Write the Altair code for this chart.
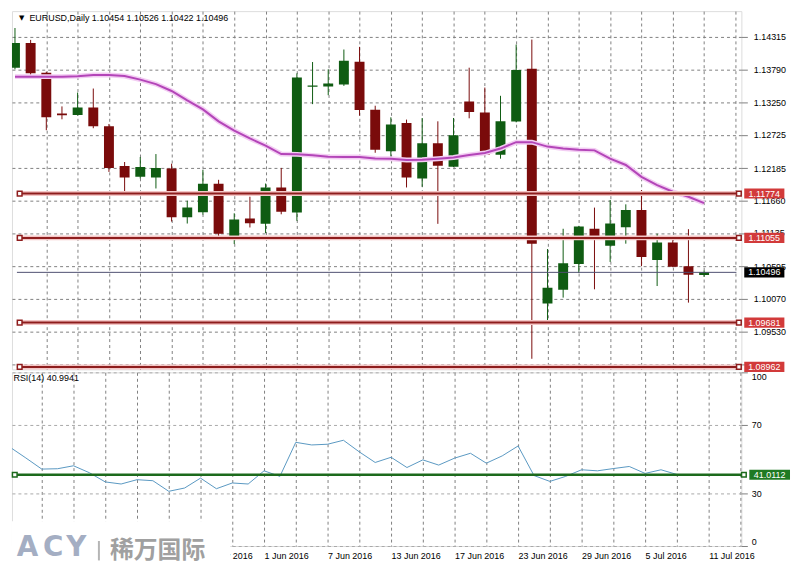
import altair as alt
import pandas as pd

# ---------------- data ----------------
dates = ["10 May", "11 May", "12 May", "13 May", "16 May", "17 May", "18 May", "19 May",
         "20 May", "23 May", "24 May", "25 May", "26 May", "27 May", "30 May", "31 May",
         "1 Jun", "2 Jun", "3 Jun", "6 Jun", "7 Jun", "8 Jun", "9 Jun", "10 Jun",
         "13 Jun", "14 Jun", "15 Jun", "16 Jun", "17 Jun", "20 Jun", "21 Jun", "22 Jun",
         "23 Jun", "24 Jun", "27 Jun", "28 Jun", "29 Jun", "30 Jun", "1 Jul", "4 Jul",
         "5 Jul", "6 Jul", "7 Jul", "8 Jul", "11 Jul"]

opens = [1.13816, 1.14218, 1.13735, 1.13075, 1.13048, 1.13172, 1.12866, 1.12222, 1.12045,
         1.12034, 1.12179, 1.11390, 1.11470, 1.11932, 1.11079, 1.11369, 1.11283, 1.11873,
         1.11465, 1.13505, 1.13510, 1.13542, 1.13912, 1.13135, 1.12459, 1.12919, 1.12018,
         1.12592, 1.12211, 1.13268, 1.13091, 1.12404, 1.12942, 1.13800, 1.09989, 1.10214,
         1.10633, 1.11203, 1.10929, 1.11229, 1.11509, 1.10697, 1.10982, 1.10596, 1.10454]
highs = [1.14460, 1.14267, 1.13750, 1.13188, 1.13413, 1.13478, 1.12903, 1.12286, 1.12367,
         1.12415, 1.12259, 1.11658, 1.12158, 1.11997, 1.11454, 1.11723, 1.11937, 1.12190,
         1.13724, 1.13908, 1.13789, 1.14111, 1.14154, 1.13199, 1.13011, 1.12974, 1.13000,
         1.12946, 1.13000, 1.13816, 1.13494, 1.13360, 1.14191, 1.14272, 1.10874, 1.11203,
         1.11250, 1.11546, 1.11670, 1.11599, 1.11831, 1.11122, 1.11042, 1.11196, 1.10526]
lows = [1.13790, 1.13655, 1.12802, 1.12979, 1.13040, 1.12834, 1.12125, 1.11776, 1.12018,
        1.11857, 1.11320, 1.11288, 1.11433, 1.11079, 1.10955, 1.11224, 1.11132, 1.11438,
        1.11332, 1.13225, 1.13370, 1.13521, 1.13038, 1.12436, 1.12351, 1.11873, 1.11884,
        1.11283, 1.12205, 1.12995, 1.12394, 1.12340, 1.12930, 1.09094, 1.09710, 1.10086,
        1.10488, 1.10221, 1.10665, 1.10961, 1.10596, 1.10274, 1.10580, 1.10005, 1.10422]
closes = [1.14218, 1.13724, 1.13011, 1.13043, 1.13172, 1.12866, 1.12190, 1.12034, 1.12206,
          1.12190, 1.11390, 1.11546, 1.11932, 1.11122, 1.11353, 1.11293, 1.11873, 1.11481,
          1.13655, 1.13526, 1.13558, 1.13929, 1.13128, 1.12484, 1.12893, 1.12034, 1.12592,
          1.12227, 1.12721, 1.13096, 1.12404, 1.12946, 1.13779, 1.10961, 1.10247, 1.10644,
          1.11240, 1.11042, 1.11288, 1.11509, 1.10746, 1.10982, 1.10585, 1.10456, 1.10496]
ma = [1.13671, 1.13671, 1.13671, 1.13671, 1.13679, 1.13698, 1.13698, 1.13682, 1.13623,
      1.13550, 1.13438, 1.13285, 1.13140, 1.12946, 1.12797, 1.12668, 1.12552, 1.12415,
      1.12410, 1.12394, 1.12372, 1.12367, 1.12367, 1.12343, 1.12340, 1.12319, 1.12324,
      1.12340, 1.12359, 1.12399, 1.12431, 1.12504, 1.12608, 1.12608, 1.12536, 1.12504,
      1.12484, 1.12475, 1.12340, 1.12238, 1.12045, 1.11911, 1.11803, 1.11723, 1.11618]
rsi = [56.9, 50.7, 44.3, 44.5, 46.2, 42.2, 36.9, 35.7, 38.2, 37.6, 31.5, 33.4, 39.1, 33.0,
       36.3, 35.7, 43.3, 40.1, 59.7, 58.2, 58.6, 60.9, 54.2, 48.1, 51.1, 45.2, 49.6, 46.6,
       50.6, 53.4, 47.7, 51.9, 57.6, 40.6, 37.2, 40.1, 43.9, 43.3, 44.6, 45.8, 41.8, 43.9,
       41.2, 40.6, 40.99]

tick_labels = ["10 May 2016", "16 May 2016", "20 May 2016", "26 May 2016", "1 Jun 2016",
               "7 Jun 2016", "13 Jun 2016", "17 Jun 2016", "23 Jun 2016", "29 Jun 2016",
               "5 Jul 2016", "11 Jul 2016"]
price_ticks = [1.14315, 1.13790, 1.13250, 1.12725, 1.12185, 1.11660, 1.11135, 1.10595,
               1.10070, 1.09530, 1.09005]
rsi_ticks = [0, 30, 70, 100]
levels = [1.11774, 1.11055, 1.09681, 1.08962]
last_price = 1.10496
rsi_level = 41.0112
header_arrow = "\u25bc"
header = "EURUSD,Daily  1.10454 1.10526 1.10422 1.10496"
rsi_header = "RSI(14) 40.9941"
logo_letters = ["A", "C", "Y"]
logo_cn = "稀万国际"

# ---------------- styles ----------------
FONT = "Liberation Sans"
GREEN = "#0f5c12"
RED = "#7a0b0b"
LEVEL_RED = "#8e1d1d"
TAG_RED = "#d23a3a"
GRID = "#808080"

n = len(opens)
df = pd.DataFrame({"i": list(range(n)), "date": dates, "open": opens, "high": highs,
                   "low": lows, "close": closes, "ma": ma, "rsi": rsi})
df["dir"] = ["up" if c >= o else "down" for o, c in zip(opens, closes)]

X0, X1 = 0.125, 46.0625
x_scale = alt.Scale(domain=[X0, X1], nice=False, zero=False)
p_scale = alt.Scale(domain=[1.08922, 1.14734], nice=False, zero=False)
r_scale = alt.Scale(domain=[0, 100], nice=False, zero=False)
grid_vals = list(range(2, 47, 2))
color_enc = alt.Color("dir:N", scale=alt.Scale(domain=["up", "down"], range=[GREEN, RED]),
                      legend=None)

x_top_axis = alt.Axis(values=grid_vals, tickCount=100, grid=True, gridDash=[3, 3],
                      gridColor=GRID, labels=False, ticks=False, domain=False, title=None)
label_arr = "[" + ",".join("'" + t + "'" for t in tick_labels) + "]"
# labels left of 26 May lie under the logo box in the reference
x_bot_axis = alt.Axis(values=grid_vals, tickCount=100, grid=True, gridDash=[3, 3],
                      gridColor=GRID, ticks=False, domain=False, title=None,
                      labelExpr="(datum.value % 4 == 0 && datum.value >= 12) ? "
                                + label_arr + "[datum.value / 4] : ''",
                      labelAlign="left", labelBaseline="top", labelPadding=6,
                      labelFontSize=9, labelFont=FONT, labelColor="#000000",
                      labelOverlap=False, labelBound=False, labelFlush=False)
p_axis = alt.Axis(orient="right", values=price_ticks, tickCount=100, grid=True,
                  labelExpr="datum.value < 1.0901 ? '' : format(datum.value, '.5f')",
                  gridDash=[3, 3], gridColor=GRID, tickSize=6, tickColor=GRID,
                  domain=False, labelPadding=6, labelFontSize=9, labelFont=FONT,
                  labelColor="#000000", title=None, labelFlush=False, labelOverlap=False)
r_axis = alt.Axis(orient="right", values=rsi_ticks, tickCount=100, grid=True, gridDash=[3, 3],
                  gridColor="#a8a8a8", tickSize=6, tickColor=GRID, domain=False,
                  labelPadding=4, labelFontSize=9, labelFont=FONT, labelColor="#000000",
                  title=None, labelFlush=True, labelOverlap=False)

base = alt.Chart(df)

# ---------------- price pane ----------------
wicks = base.mark_rule(strokeWidth=1, clip=True).encode(
    x=alt.X("i:Q", scale=x_scale, axis=x_top_axis),
    y=alt.Y("low:Q", scale=p_scale, axis=p_axis),
    y2="high:Q", color=color_enc)
bodies = base.mark_bar(size=10, clip=True).encode(
    x="i:Q", y="open:Q", y2="close:Q", color=color_enc)
ma_halo = base.mark_line(color="#f3cdf3", strokeWidth=5, clip=True).encode(x="i:Q", y="ma:Q")
ma_line = base.mark_line(color="#b345b8", strokeWidth=2, clip=True).encode(x="i:Q", y="ma:Q")

lev = alt.Chart(pd.DataFrame({"level": levels})).transform_calculate(
    lo="datum.level - 0.00082", hi="datum.level + 0.00082",
    label="format(datum.level, '.5f')")
lev_halo = lev.mark_rule(color="#f4c6c6", strokeWidth=5).encode(
    x=alt.datum(X0), x2=alt.datum(46.25), y="level:Q")
lev_rule = lev.mark_rule(color=LEVEL_RED, strokeWidth=2).encode(
    x=alt.datum(X0), x2=alt.datum(46.25), y="level:Q")
lev_sq_l = lev.mark_point(shape="square", size=22, filled=True, fill="white",
                          stroke=LEVEL_RED, strokeWidth=1.5, opacity=1).encode(
    x=alt.datum(0.3), y="level:Q")
lev_sq_r = lev.mark_point(shape="square", size=22, filled=True, fill="white",
                          stroke=LEVEL_RED, strokeWidth=1.5, opacity=1).encode(
    x=alt.datum(46.22), y="level:Q")
lev_tag = lev.mark_rect(color=TAG_RED).encode(
    x=alt.datum(46.5625), x2=alt.datum(49.125), y="lo:Q", y2="hi:Q")
lev_txt = lev.mark_text(color="white", fontSize=9, font=FONT).encode(
    x=alt.datum(47.84), y="level:Q", text="label:N")

cur = alt.Chart(pd.DataFrame({"level": [last_price]})).transform_calculate(
    lo="datum.level - 0.00082", hi="datum.level + 0.00082",
    label="format(datum.level, '.5f')")
cur_rule = cur.mark_rule(color="#4e5070", strokeWidth=1).encode(
    x=alt.datum(X0), x2=alt.datum(X1), y="level:Q")
cur_tag = cur.mark_rect(color="#000000").encode(
    x=alt.datum(46.5625), x2=alt.datum(49.125), y="lo:Q", y2="hi:Q")
cur_txt = cur.mark_text(color="white", fontSize=9, font=FONT).encode(
    x=alt.datum(47.84), y="level:Q", text="label:N")

head_arrow = alt.Chart(pd.DataFrame({"t": [header_arrow]})).mark_text(
    align="center", baseline="middle", fontSize=7, font="DejaVu Sans", color="black").encode(
    x=alt.datum(0.43), y=alt.datum(1.14621), text="t:N")
head = alt.Chart(pd.DataFrame({"t": [header]})).mark_text(
    align="left", baseline="middle", fontSize=9, font=FONT, color="black").encode(
    x=alt.datum(0.92), y=alt.datum(1.14621), text="t:N")

price = alt.layer(wicks, bodies, ma_halo, ma_line, lev_halo, lev_rule, cur_rule,
                  lev_sq_l, lev_sq_r, lev_tag, lev_txt, cur_tag, cur_txt,
                  head_arrow, head).properties(width=735, height=361)

# ---------------- RSI pane ----------------
rsi_line = base.mark_line(color="#5a98c2", strokeWidth=1, clip=True).encode(
    x=alt.X("i:Q", scale=x_scale, axis=x_bot_axis),
    y=alt.Y("rsi:Q", scale=r_scale, axis=r_axis))
rl = alt.Chart(pd.DataFrame({"level": [rsi_level]})).transform_calculate(
    lo="datum.level - 2.9", hi="datum.level + 2.9", label="format(datum.level, '.4f')")
rl_rule = rl.mark_rule(color="#1c6a1c", strokeWidth=2.5).encode(
    x=alt.datum(X0), x2=alt.datum(46.25), y="level:Q")
rl_sq_l = rl.mark_point(shape="square", size=22, filled=True, fill="white",
                        stroke="#1c6a1c", strokeWidth=1.5, opacity=1).encode(
    x=alt.datum(0.3), y="level:Q")
rl_sq_r = rl.mark_point(shape="square", size=22, filled=True, fill="white",
                        stroke="#1c6a1c", strokeWidth=1.5, opacity=1).encode(
    x=alt.datum(46.22), y="level:Q")
rl_tag = rl.mark_rect(color="#1f7a22").encode(
    x=alt.datum(46.5625), x2=alt.datum(49.125), y="lo:Q", y2="hi:Q")
rl_txt = rl.mark_text(color="white", fontSize=9, font=FONT).encode(
    x=alt.datum(47.84), y="level:Q", text="label:N")
rhead = alt.Chart(pd.DataFrame({"t": [rsi_header]})).mark_text(
    align="left", baseline="middle", fontSize=9, font=FONT, color="black").encode(
    x=alt.datum(0.22), y=alt.datum(96.5), text="t:N")

# watermark
wm_box = alt.Chart(pd.DataFrame({"a": [0]})).mark_rect(color="white").encode(
    x=alt.datum(X0), x2=alt.datum(13.875), y=alt.datum(14.2), y2=alt.datum(-8.6))
wm_letters = alt.Chart(pd.DataFrame({"t": logo_letters, "pos": [1.1, 2.72, 4.18]})).mark_text(
    font="DejaVu Sans", fontSize=28, fontWeight="bold", color="#a4aec3",
    baseline="middle").encode(x="pos:Q", y=alt.datum(-0.9), text="t:N")
wm_bar = alt.Chart(pd.DataFrame({"a": [0]})).mark_rule(color="#b5b5b5", strokeWidth=2).encode(
    x=alt.datum(5.6), y=alt.datum(2.9), y2=alt.datum(-8.3))
wm_cn = alt.Chart(pd.DataFrame({"t": [logo_cn]})).mark_text(
    font="Noto Sans CJK SC", fontSize=24, fontWeight="bold", color="#a0a0a0",
    align="left", baseline="middle").encode(x=alt.datum(6.3), y=alt.datum(-3.0), text="t:N")

rsi_pane = alt.layer(rsi_line, rl_rule, rl_sq_l, rl_sq_r, rl_tag, rl_txt, rhead,
                     wm_box, wm_letters, wm_bar, wm_cn).properties(width=735, height=175)

chart = alt.vconcat(price, rsi_pane, spacing=3, bounds="flush").properties(
    padding=0, background="white").configure_view(stroke=None).configure(font=FONT)

chart.save("out.html", embed_options={"renderer": "svg", "actions": False})
